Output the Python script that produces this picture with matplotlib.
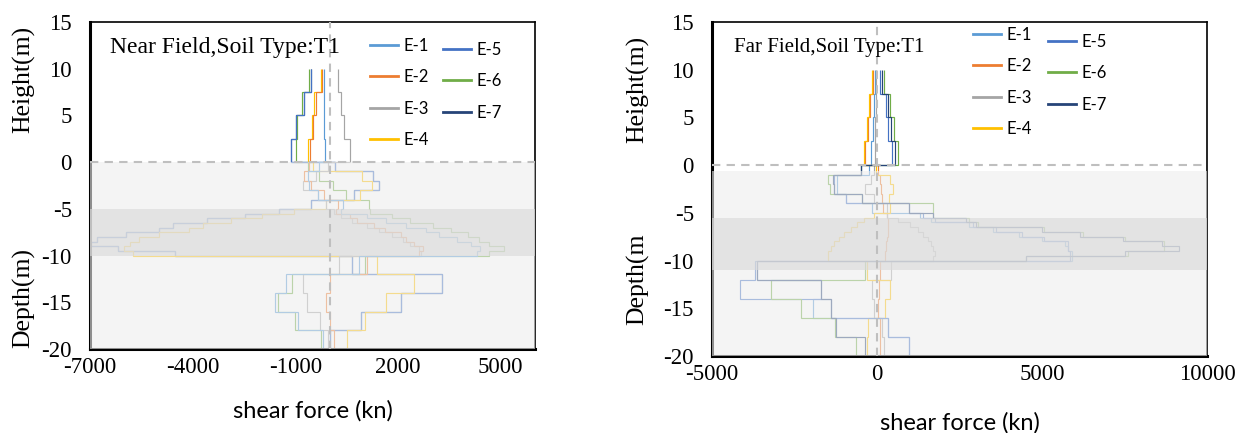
import matplotlib
matplotlib.use("Agg")
import matplotlib.pyplot as plt
from matplotlib.lines import Line2D

plt.rcParams['font.family'] = ['Liberation Serif', 'DejaVu Serif']
plt.rcParams['axes.unicode_minus'] = False

# segment edges along the pile / pier (m), top to bottom
edges = [10, 7.5, 5, 2.5, 0, -1, -2, -3, -4, -5,
         -5.5, -6, -6.5, -7, -7.5, -8, -8.5, -9, -9.5, -10,
         -12, -14, -16, -18, -20]

series = ['E-1', 'E-2', 'E-3', 'E-4', 'E-5', 'E-6', 'E-7']
colors = ['#5B9BD5', '#ED7D31', '#A5A5A5', '#FFC000', '#4472C4', '#70AD47', '#264478']

# near field, shear force (kn) per segment, top to bottom
near_e1 = [-168, -168, -168, -147, -298, -623, -605, -326, 400,
           339, 1078, 1659, 2240, 2821, 3190, 3718, 4141, 4405, 4299,
           867, -1266, -1583, -928, -180]
near_e2 = [-220, -400, -484, -569, -600, -735, -530, -158, 242,
           181, 603, 814, 1290, 1606, 2082, 2240, 2451, 2715, 2610,
           1078, 22, -104, 22, 128]
near_e3 = [234, 339, 424, 603, -37, -400, -790, -350, -100,
           128, 339, 656, 1078, 1448, 1818, 2134, 2346, 2610, 2662,
           286, -770, -664, -294, -60]
near_e4 = [-263, -453, -527, -632, -500, 939, 1237, 893, -112,
           -1034, -1984, -2882, -3695, -4096, -4994, -5574, -5838, -6018, -5733,
           1395, 2451, 1659, 1026, 497]
near_e5 = [-548, -738, -981, -1140, 167, 1265, 1451, 725, -549,
           -1488, -2459, -3568, -4571, -4994, -5944, -6810, -6970, -6176, -4518,
           656, 3296, 2082, 920, 22]
near_e6 = [-590, -801, -949, -970, -642, -298, 102, 465, 1144,
           1184, 1818, 2346, 3032, 3560, 4035, 4352, 4669, 5091, 4669,
           1026, -1086, -1509, -1012, -242]
near_e7 = [-548, -738, -981, -1140, 167, 1265, 1451, 725, -549,
           -1488, -2459, -3568, -4571, -4994, -5944, -6810, -6990, -6176, -4518,
           656, 3296, 2082, 920, 22]

# far field
far_e1 = [-60, -100, -120, -180, -250, -1200, -1200, -950, -150,
          1300, 1650, 2800, 3500, 4300, 5000, 5700, 5800, 5900, 5900,
          -3650, -1700, -1950, 330, 960]
far_e2 = [-120, -200, -280, -350, 20, 80, 120, 140, 180,
          300, 320, 330, 330, 320, 300, 280, 260, 250, 240,
          80, 60, 40, 80, 100]
far_e3 = [-30, -40, -50, -60, -80, -190, -360, -100, 300,
          300, 650, 1000, 1250, 1400, 1550, 1650, 1700, 1750, 1700,
          420, -150, -100, 150, 220]
far_e4 = [-155, -239, -311, -395, -30, 380, 480, 360, 400,
          -100, -400, -600, -800, -1000, -1150, -1300, -1400, -1500, -1500,
          -300, 380, 230, -270, -300]
far_e5 = [84, 263, 335, 443, -500, -1300, -1300, -950, 960,
          1400, 1750, 2900, 3600, 4400, 5050, 5800, 5800, 5850, 5850,
          -3700, -4150, -1400, 320, 960]
far_e6 = [203, 383, 502, 622, -500, -1470, -1410, -450, 1700,
          1700, 2800, 3050, 5050, 6250, 7500, 8700, 8700, 7600, 4500,
          -350, -3200, -2300, -1270, -630]
far_e7 = [144, 323, 418, 538, -500, -1320, -1290, -450, 960,
          1700, 2700, 3000, 5000, 6150, 7450, 8650, 9150, 7500, 4500,
          -3650, -1700, -1400, -1250, -350]

near = [near_e1, near_e2, near_e3, near_e4, near_e5, near_e6, near_e7]
far = [far_e1, far_e2, far_e3, far_e4, far_e5, far_e6, far_e7]

fig = plt.figure(figsize=(12.41, 4.33), dpi=100)
W, H = 1241, 433
ax1 = fig.add_axes([90 / W, 1 - 349 / H, 445 / W, 327 / H])
ax2 = fig.add_axes([712 / W, 1 - 356 / H, 495 / W, 334 / H])


def draw_panel(ax, data, xlim, xticks, title, title_size, light, dark,
               reverse=False, xpad=17):
    n = len(data)
    for i, (vals, c) in enumerate(zip(data, colors)):
        z = 2 + (n - i) * 0.01 if reverse else 2 + i * 0.01
        ax.stairs(vals[::-1], edges[::-1], orientation='horizontal',
                  baseline=None, color=c, lw=0.85, zorder=z)
    # soil layers
    ax.axhspan(light[0], light[1], color='#eeeeee', alpha=0.6, lw=0, zorder=3)
    ax.axhspan(dark[0], dark[1], color='#dadada', alpha=0.65, lw=0, zorder=3.1)
    ax.axhline(0, color='#bfbfbf', ls=(0, (4, 3)), lw=1.5, zorder=4)
    ax.axvline(0, color='#bfbfbf', ls=(0, (4, 3)), lw=1.5, zorder=4)

    ax.set_xlim(*xlim)
    ax.set_ylim(-20, 15)
    ax.set_xticks(xticks)
    ax.set_xticklabels([str(t) for t in xticks])
    ax.set_yticks(range(-20, 16, 5))
    ax.set_yticklabels([str(t) for t in range(-20, 16, 5)])
    ax.tick_params(length=0, labelsize=16.5)
    ax.tick_params(axis='x', pad=6)
    ax.tick_params(axis='y', pad=13)
    for s in ['left', 'bottom']:
        ax.spines[s].set_linewidth(2.2)
    for s in ['top', 'right']:
        ax.spines[s].set_linewidth(1.2)

    ax.text(0.045, 12.3, title, transform=ax.get_yaxis_transform(),
            fontsize=title_size, va='center', ha='left', zorder=6)
    ax.set_xlabel('shear force (kn)', family='Lato', fontsize=17, labelpad=xpad)


draw_panel(ax1, near, (-7000, 6000), [-7000, -4000, -1000, 2000, 5000],
           'Near Field,Soil Type:T1', 17, (-20, 0), (-10, -5), reverse=True, xpad=15.5)
draw_panel(ax2, far, (-5000, 10000), [-5000, 0, 5000, 10000],
           'Far Field,Soil Type:T1', 15, (-20.8, -0.6), (-11.0, -5.55), xpad=19.5)

ax1.text(-0.148, 8.8, 'Height(m)', transform=ax1.get_yaxis_transform(),
         rotation=90, ha='center', va='center', fontsize=18.5)
ax1.text(-0.148, -14.5, 'Depth(m)', transform=ax1.get_yaxis_transform(),
         rotation=90, ha='center', va='center', fontsize=18.5)
ax2.text(-0.15, 7.9, 'Height(m)', transform=ax2.get_yaxis_transform(),
         rotation=90, ha='center', va='center', fontsize=18.5)
ax2.text(-0.15, -12.0, 'Depth(m', transform=ax2.get_yaxis_transform(),
         rotation=90, ha='center', va='center', fontsize=18.5)

handles = [Line2D([], [], color=c, lw=2) for c in colors]


def add_legend(hs, labels, x, y):
    leg = fig.legend(hs, labels, loc='upper left',
                     bbox_to_anchor=(x / W, 1 - y / H), bbox_transform=fig.transFigure,
                     frameon=False, borderpad=0, borderaxespad=0,
                     handlelength=1.7, handletextpad=0.3, labelspacing=0.92,
                     prop={'family': 'Lato', 'size': 12})
    return leg


add_legend(handles[:4], series[:4], 370, 38)
add_legend(handles[4:], series[4:], 443, 42)
add_legend(handles[:4], series[:4], 973, 27)
add_legend(handles[4:], series[4:], 1048, 34)

fig.savefig('out.png', dpi=100)
